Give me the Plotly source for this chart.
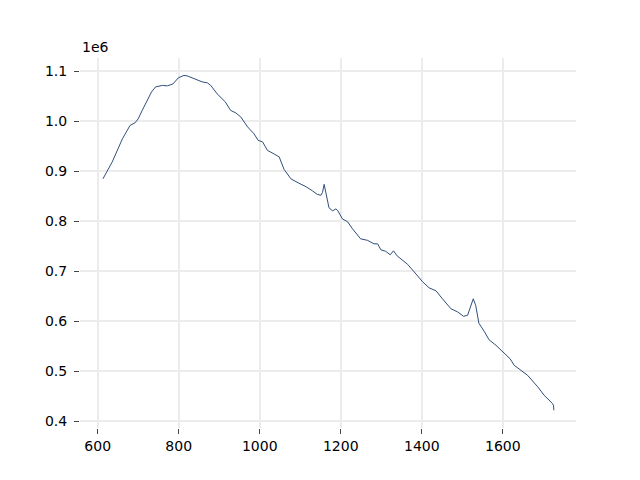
import plotly.graph_objects as go

wavenumber = [613, 636, 661, 680, 692, 700, 710, 727, 733, 743, 760, 772, 786, 799, 813, 821,
              842, 858, 871, 879, 895, 915, 928, 941, 953, 970, 986, 996, 1007, 1019, 1035,
              1048, 1060, 1077, 1095, 1115, 1130, 1142, 1151, 1155, 1159, 1163, 1166, 1171,
              1180, 1188, 1193, 1204, 1217, 1229, 1249, 1266, 1282, 1291, 1299, 1311, 1322,
              1330, 1339, 1348, 1355, 1365, 1381, 1402, 1418, 1435, 1451, 1472, 1488, 1503,
              1513, 1521, 1527, 1533, 1541, 1554, 1566, 1583, 1603, 1618, 1628, 1661, 1686,
              1702, 1722, 1725, 1726]
intensity_1e6 = [0.885, 0.919, 0.965, 0.992, 0.997, 1.005, 1.022, 1.049, 1.059, 1.069, 1.072,
                 1.071, 1.075, 1.087, 1.092, 1.091, 1.084, 1.079, 1.077, 1.072, 1.055, 1.039,
                 1.022, 1.017, 1.009, 0.989, 0.975, 0.962, 0.959, 0.942, 0.935, 0.929, 0.904,
                 0.885, 0.877, 0.869, 0.861, 0.854, 0.852, 0.858, 0.874, 0.860, 0.848, 0.827,
                 0.821, 0.825, 0.821, 0.805, 0.799, 0.785, 0.765, 0.762, 0.755, 0.755, 0.743,
                 0.740, 0.733, 0.741, 0.731, 0.725, 0.721, 0.714, 0.699, 0.679, 0.667, 0.661,
                 0.645, 0.625, 0.619, 0.610, 0.612, 0.632, 0.645, 0.632, 0.596, 0.580, 0.563,
                 0.552, 0.537, 0.525, 0.512, 0.492, 0.469, 0.452, 0.436, 0.432, 0.422]

x_ticks = [600, 800, 1000, 1200, 1400, 1600]
y_ticks = [0.4, 0.5, 0.6, 0.7, 0.8, 0.9, 1.0, 1.1]
offset_label = "1e6"

fig = go.Figure()
fig.add_trace(go.Scatter(x=wavenumber, y=intensity_1e6, mode="lines",
                         line=dict(color="#2f4f7a", width=1), showlegend=False))

font = dict(family="DejaVu Sans", size=14, color="#000000")
fig.update_layout(
    width=640, height=480,
    margin=dict(l=72, r=72, t=50, b=60),
    paper_bgcolor="white", plot_bgcolor="white",
    font=font,
    xaxis=dict(range=[556.4, 1780.6], tickvals=x_ticks, ticks="outside", ticklen=5,
               tickcolor="#444444", tickwidth=1, showgrid=True, gridcolor="#ececec",
               gridwidth=1.5, showline=False, zeroline=False, tickfont=font),
    yaxis=dict(range=[0.3865, 1.1268], tickvals=y_ticks, tickformat=".1f", ticks="outside",
               ticklen=5, tickcolor="#444444", tickwidth=1, showgrid=True, gridcolor="#ececec",
               gridwidth=1.5, showline=False, zeroline=False, tickfont=font,
               ticklabelstandoff=4),
    annotations=[dict(text=offset_label, xref="paper", yref="paper", x=0, y=1,
                      xanchor="left", yanchor="bottom", yshift=1, showarrow=False, font=font)],
)
fig.write_html("out.html")
